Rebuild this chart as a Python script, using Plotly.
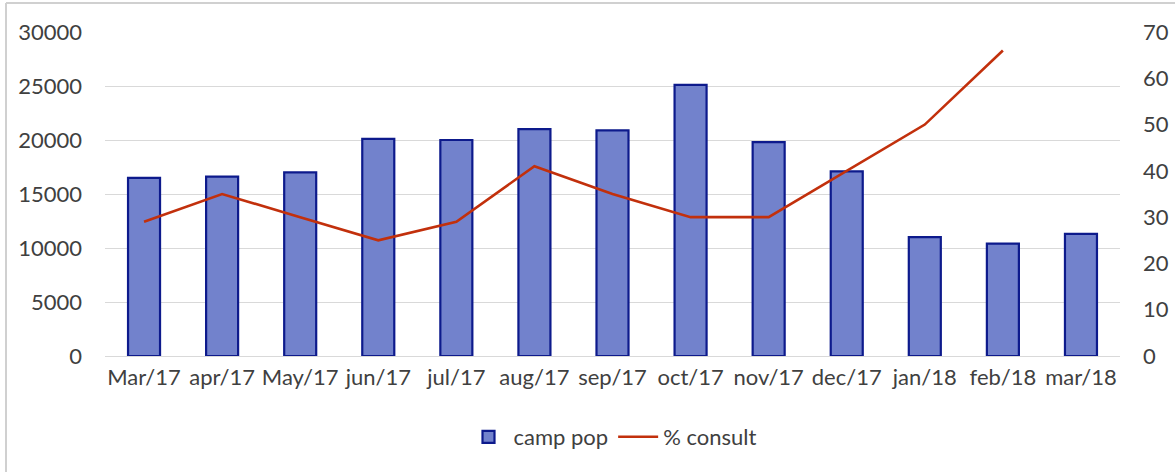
import plotly.graph_objects as go

months = ["Mar/17", "apr/17", "May/17", "jun/17", "jul/17", "aug/17", "sep/17",
          "oct/17", "nov/17", "dec/17", "jan/18", "feb/18", "mar/18"]
camp_pop = [16500, 16600, 17000, 20100, 20000, 21000, 20900,
            25100, 19800, 17100, 11000, 10400, 11300]
pct_consult = [29, 35, 30, 25, 29, 41, 35, 30, 30, 40, 50, 66, None]

FONT = dict(family="Lato, 'Open Sans', sans-serif", size=22, color="#404040")

fig = go.Figure()
fig.add_trace(go.Bar(
    x=months, y=camp_pop, name="camp pop",
    marker=dict(color="#7282cc", line=dict(color="#0d1a8c", width=2.2)),
    width=0.41,
))
fig.add_trace(go.Scatter(
    x=months, y=pct_consult, name="% consult", yaxis="y2",
    mode="lines", line=dict(color="#c2300c", width=2.6),
))

fig.update_layout(
    width=1175, height=472,
    margin=dict(l=105, r=55, t=32, b=116, autoexpand=False),
    paper_bgcolor="white", plot_bgcolor="white",
    font=FONT,
    showlegend=True,
    legend=dict(orientation="h", x=0.5, xanchor="center", y=-0.25, yanchor="middle",
                font=FONT, itemwidth=40, traceorder="normal"),
    xaxis=dict(showgrid=False, showline=False, ticks="", tickfont=FONT,
               ticklabelstandoff=6, automargin=False),
    yaxis=dict(range=[0, 30000], dtick=5000, tickformat="d", showgrid=True,
               gridcolor="#d9d9d9", gridwidth=1.3, zeroline=True,
               zerolinecolor="#d9d9d9", zerolinewidth=1.3,
               showline=False, ticks="", tickfont=FONT, ticklabelstandoff=22,
               automargin=False),
    yaxis2=dict(range=[0, 70], dtick=10, overlaying="y", side="right", showgrid=False,
                zeroline=False, showline=False, ticks="", tickfont=FONT,
                ticklabelstandoff=22, automargin=False),
    shapes=[
        dict(type="line", xref="paper", yref="paper",
             x0=(6 - 105) / 1015, x1=(1175 - 105) / 1015,
             y0=(356 - 3) / 324, y1=(356 - 3) / 324,
             line=dict(color="#d0d0d0", width=2)),
        dict(type="line", xref="paper", yref="paper",
             x0=(6 - 105) / 1015, x1=(6 - 105) / 1015,
             y0=(356 - 3) / 324, y1=(356 - 472) / 324,
             line=dict(color="#d0d0d0", width=2)),
    ],
)

fig.write_html("out.html", config={"displayModeBar": False},
               post_script="document.body.style.margin='0';document.body.style.overflow='hidden';")
